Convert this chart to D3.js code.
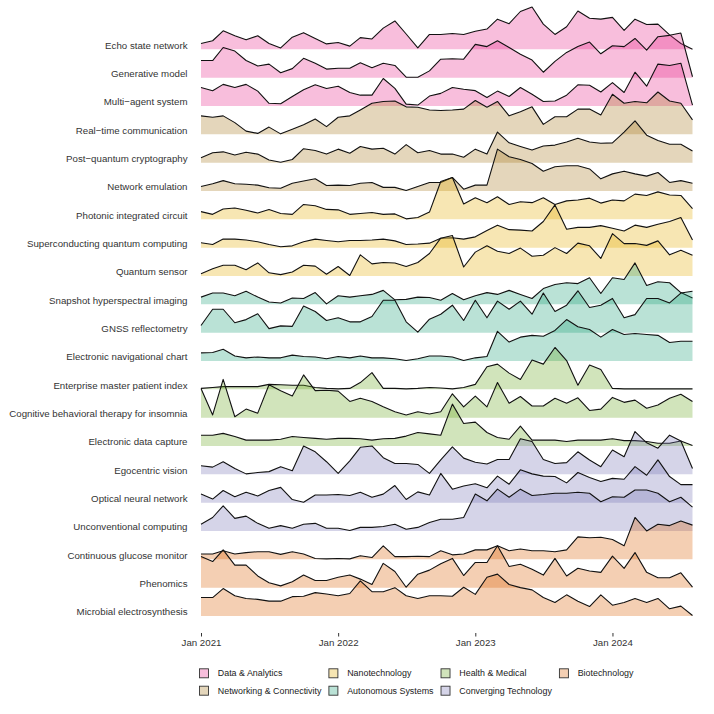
<!DOCTYPE html>
<html>
<head>
<meta charset="utf-8">
<script src="https://cdn.jsdelivr.net/npm/d3@7"></script>
<style>
  body { margin: 0; background: #fff; }
  text { font-family: "Liberation Sans", Arial, Helvetica, sans-serif; }
</style>
</head>
<body>
<div id="viz"></div>
<script>
"use strict";

const w = 714;
const h = 714;

// monthly index, Jan 2021 .. Aug 2024
const months = d3.timeMonth.range(new Date(2021, 0, 1), new Date(2024, 8, 1));
const tickDates = [new Date(2021, 0, 1), new Date(2022, 0, 1), new Date(2023, 0, 1), new Date(2024, 0, 1)];

const groups = ["Data & Analytics", "Networking & Connectivity", "Nanotechnology", "Autonomous Systems",
  "Health & Medical", "Converging Technology", "Biotechnology"];
const groupColors = ["#E7298A", "#A6761D", "#E6AB02", "#1B9E77", "#66A61E", "#7570B3", "#D95F02"];

const topics = ["Echo state network", "Generative model", "Multi\u2212agent system",
  "Real\u2212time communication", "Post\u2212quantum cryptography", "Network emulation",
  "Photonic integrated circuit", "Superconducting quantum computing", "Quantum sensor",
  "Snapshot hyperspectral imaging", "GNSS reflectometry", "Electronic navigational chart",
  "Enterprise master patient index", "Cognitive behavioral therapy for insomnia", "Electronic data capture",
  "Egocentric vision", "Optical neural network", "Unconventional computing",
  "Continuous glucose monitor", "Phenomics", "Microbial electrosynthesis"];
const topicGroups = [0, 0, 0, 1, 1, 1, 2, 2, 2, 3, 3, 3, 4, 4, 4, 5, 5, 5, 6, 6, 6];

// search interest per month
const echoStateNetwork = [13,19,41,30,21,30,13,3,27,37,24,12,15,7,26,23,47,63,34,3,33,33,35,33,40,45,67,57,84,94,56,33,50,85,69,67,71,42,67,55,56,32,13,0];
const generativeModel = [38,38,67,59,38,26,30,11,20,43,32,19,21,21,33,22,32,27,1,1,15,41,42,41,74,69,82,67,52,39,12,36,56,69,79,53,71,69,87,61,91,94,99,2];
const multiAgentSystem = [41,34,48,41,48,33,6,5,21,36,47,39,44,30,24,24,61,39,4,2,22,28,41,37,34,19,33,21,41,26,10,11,24,47,46,31,52,30,75,44,93,90,95,2];
const realTimeCommunication = [41,38,41,26,7,2,16,1,11,21,34,17,38,41,54,69,73,74,61,60,54,53,54,56,75,60,73,41,50,61,22,39,39,56,56,43,89,69,73,70,94,74,69,32];
const postQuantumCryptography = [11,22,24,17,23,19,6,1,7,31,27,19,30,21,36,30,32,19,40,22,27,19,19,12,30,19,68,44,36,28,37,39,46,54,46,43,44,68,93,61,49,41,41,26];
const networkEmulation = [10,16,23,16,15,13,7,6,17,22,27,12,13,12,17,19,8,8,1,10,19,19,30,4,13,13,93,76,70,61,44,54,56,56,49,27,38,44,38,33,41,19,23,17];
const photonicIntegratedCircuit = [17,11,23,25,20,14,22,13,11,33,30,22,21,11,13,15,11,12,1,4,16,84,93,34,48,37,50,33,39,37,48,33,41,43,47,36,43,41,56,53,61,54,53,24];
const superconductingQuantumComputing = [11,7,19,19,17,13,7,2,4,13,19,16,13,16,16,17,19,15,7,8,10,21,22,19,24,38,50,40,39,37,58,95,41,45,45,49,43,37,50,45,52,58,67,17];
const quantumSensor = [5,16,24,24,14,29,7,3,9,24,22,4,21,1,47,27,30,29,21,30,50,84,90,20,53,67,55,50,62,44,46,63,50,73,67,39,94,72,72,68,78,47,57,46];
const snapshotHyperspectralImaging = [16,25,25,19,29,16,5,3,14,13,26,1,19,16,19,22,31,10,11,16,15,9,24,10,19,26,22,31,22,13,35,44,48,46,59,24,59,55,92,42,50,48,26,14];
const gnssReflectometry = [16,52,52,22,29,42,9,15,14,59,47,27,33,24,24,36,72,72,24,1,30,41,61,27,72,33,70,52,70,41,88,47,61,93,56,61,76,33,40,76,76,66,88,92];
const electronicNavigationalChart = [18,19,26,11,7,9,7,7,13,10,9,5,10,7,11,7,7,5,1,5,11,11,9,1,7,10,66,42,53,57,55,68,92,76,70,53,70,59,61,59,57,41,44,44];
const enterpriseMasterPatientIndex = [2,4,6,6,6,6,11,10,9,9,4,2,1,2,15,37,2,2,1,2,4,3,1,4,11,50,56,36,22,65,56,93,64,9,54,44,2,1,1,1,1,1,1,1];
const cbtInsomnia = [65,6,85,2,19,10,73,60,48,95,60,61,59,36,43,36,24,13,6,13,8,13,53,24,48,24,78,32,47,26,26,43,32,44,16,19,45,34,39,21,28,43,52,36];
const electronicDataCapture = [24,24,28,21,13,13,13,15,21,19,17,15,17,17,16,13,16,17,22,30,27,24,93,50,53,30,19,15,44,13,13,13,10,13,13,13,16,12,12,10,6,6,11,1];
const egocentricVision = [19,16,28,13,1,4,6,17,8,63,50,28,2,30,60,63,37,24,24,22,2,32,61,36,27,23,33,33,79,73,33,24,26,50,32,17,54,39,95,70,58,87,74,13];
const opticalNeuralNetwork = [19,8,27,13,23,15,27,34,7,1,17,17,18,16,23,12,19,38,7,24,17,65,30,37,42,33,59,41,73,64,59,58,44,67,56,47,54,52,80,61,95,58,40,40];
const unconventionalComputing = [15,30,56,28,33,17,6,12,6,15,17,6,6,1,8,8,10,15,4,8,19,26,26,30,82,67,93,75,93,79,81,84,84,86,84,65,76,75,91,91,84,65,75,53];
const continuousGlucoseMonitor = [12,12,19,12,15,17,17,11,17,12,2,1,2,1,8,4,30,6,6,7,6,19,10,12,21,21,30,19,23,19,19,17,21,50,48,49,44,30,93,63,78,75,85,76];
const phenomics = [69,58,84,50,50,26,11,4,13,28,16,16,23,28,19,7,54,36,1,30,39,53,65,27,56,56,93,47,52,41,28,65,26,43,37,34,70,43,78,34,22,22,33,1];
const microbialElectrosynthesis = [41,41,61,45,39,37,33,33,43,44,52,49,45,50,78,54,54,63,45,39,45,45,44,64,48,86,93,70,63,58,41,30,47,33,21,47,24,30,39,30,39,16,22,1];

const seriesValues = [echoStateNetwork, generativeModel, multiAgentSystem, realTimeCommunication,
  postQuantumCryptography, networkEmulation, photonicIntegratedCircuit, superconductingQuantumComputing,
  quantumSensor, snapshotHyperspectralImaging, gnssReflectometry, electronicNavigationalChart,
  enterpriseMasterPatientIndex, cbtInsomnia, electronicDataCapture, egocentricVision,
  opticalNeuralNetwork, unconventionalComputing, continuousGlucoseMonitor, phenomics, microbialElectrosynthesis];

const ridges = topics.map((name, i) => ({
  name: name,
  group: topicGroups[i],
  values: seriesValues[i].map((v, j) => ({ date: months[j], value: v }))
}));

const svg = d3.select("#viz")
  .append("svg")
  .attr("width", w)
  .attr("height", h)

const x = d3.scaleTime()
  .domain([months[0], months[months.length - 1]])
  .range([201, 692.5])

const y = d3.scalePoint()
  .domain(topics)
  .range([49.3, 616])

const ht = d3.scaleLinear()
  .domain([0, 100])
  .range([0, 45])

const color = d3.scaleOrdinal()
  .domain(d3.range(groups.length))
  .range(groupColors)

// ridges, top row first so lower rows sit on top
const ridgeG = svg.append("g")

ridges.forEach((r) => {
  const base = y(r.name)
  const area = d3.area()
    .x(d => x(d.date))
    .y0(base)
    .y1(d => base - ht(d.value))
  const line = d3.line()
    .x(d => x(d.date))
    .y(d => base - ht(d.value))

  ridgeG.append("path")
    .datum(r.values)
    .attr("d", area)
    .attr("fill", color(r.group))
    .attr("fill-opacity", 0.3)

  ridgeG.append("path")
    .datum(r.values)
    .attr("d", line)
    .attr("fill", "none")
    .attr("stroke", "#111")
    .attr("stroke-width", 1.1)
    .attr("stroke-linejoin", "round")
})

// y labels
svg.append("g")
  .selectAll("text")
  .data(topics)
  .join("text")
  .attr("x", 187.5)
  .attr("y", d => y(d) - 0.7)
  .attr("text-anchor", "end")
  .attr("font-size", 9.7)
  .attr("fill", "#333")
  .text(d => d)

// x axis
const xAxis = svg.append("g")
  .attr("transform", "translate(0,633)")
  .call(d3.axisBottom(x)
    .tickValues(tickDates)
    .tickFormat(d3.timeFormat("%b %Y"))
    .tickSize(3.5)
    .tickPadding(3))

xAxis.select(".domain").remove()
xAxis.selectAll(".tick line").attr("stroke", "#333").attr("stroke-width", 1)
xAxis.selectAll(".tick text")
  .attr("font-size", 9.7)
  .attr("fill", "#333")
  .attr("font-family", "Liberation Sans, Arial, sans-serif")

// legend, 2 rows filled column by column
const legend = svg.append("g")
const keySize = 9
const rowY = [673.3, 690.7]
let colX = 199.5
const nCols = Math.ceil(groups.length / 2)
for (let c = 0; c < nCols; c++) {
  let maxW = 0
  for (let rr = 0; rr < 2; rr++) {
    const gi = c * 2 + rr
    if (gi >= groups.length) break
    legend.append("rect")
      .attr("x", colX)
      .attr("y", rowY[rr] - keySize / 2)
      .attr("width", keySize)
      .attr("height", keySize)
      .attr("fill", d3.color(groupColors[gi]).copy({ opacity: 0.3 }))
      .attr("stroke", "#333")
      .attr("stroke-width", 0.9)
    const t = legend.append("text")
      .attr("x", colX + 18.3)
      .attr("y", rowY[rr])
      .attr("dy", "0.35em")
      .attr("font-size", 8.9)
      .attr("fill", "#1a1a1a")
      .text(groups[gi])
    maxW = Math.max(maxW, t.node().getComputedTextLength())
  }
  colX = colX + 18.3 + maxW + 7.5
}
</script>
</body>
</html>
